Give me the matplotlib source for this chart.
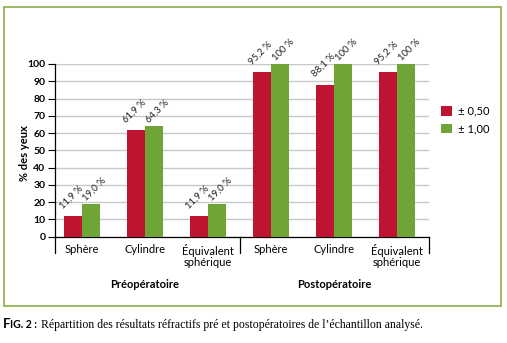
import numpy as np
import matplotlib.pyplot as plt
from matplotlib.patches import Rectangle

# data
categories = ['Sphère', 'Cylindre', 'Équivalent\nsphérique', 'Sphère', 'Cylindre', 'Équivalent\nsphérique']
groups = ['Préopératoire', 'Postopératoire']
vals_050 = [11.9, 61.9, 11.9, 95.2, 88.1, 95.2]
vals_100 = [19.0, 64.3, 19.0, 100, 100, 100]
labels_050 = ['11,9 %', '61,9 %', '11,9 %', '95,2 %', '88,1 %', '95,2 %']
labels_100 = ['19,0 %', '64,3 %', '19,0 %', '100 %', '100 %', '100 %']
series = ['± 0,50', '± 1,00']

red = '#be1431'
green = '#6fa536'
font = 'Lato'

fig = plt.figure(figsize=(5.07, 3.43), dpi=100)
ax = fig.add_axes([0.1085, 0.310, 0.738, 0.5035])

x = np.arange(len(categories))
w = 0.28
ax.bar(x - w / 2, vals_050, w, color=red, label=series[0], zorder=3)
ax.bar(x + w / 2, vals_100, w, color=green, label=series[1], zorder=3)

# value labels, rotated 45 deg above each bar
for xi, v, s in zip(x - w / 2, vals_050, labels_050):
    ax.annotate(s, (xi, v), xytext=(-1.5, 4), textcoords='offset points', rotation=45,
                ha='center', va='bottom', fontsize=6.8, family=font, color='#222222')
for xi, v, s in zip(x + w / 2, vals_100, labels_100):
    ax.annotate(s, (xi, v), xytext=(2.5, 1), textcoords='offset points', rotation=45,
                ha='center', va='bottom', fontsize=6.8, family=font, color='#222222')

ax.set_xlim(-0.43, 5.51)
ax.set_ylim(0, 100)
ax.set_yticks(range(0, 101, 10))
ax.set_yticklabels([str(t) for t in range(0, 101, 10)], fontsize=7.5, fontweight='bold', family=font)
ax.yaxis.grid(True, color='#c8c8c8', linewidth=1, zorder=0)
ax.tick_params(axis='y', length=5, width=0.8, pad=2)
ax.set_xticks([])
for side in ['top', 'right']:
    ax.spines[side].set_visible(False)
ax.spines['left'].set_linewidth(0.9)
ax.spines['bottom'].set_linewidth(0.9)
ax.set_ylabel('% des yeux', fontsize=8, fontweight='bold', family=font)
ax.yaxis.set_label_coords(-0.066, 0.485)

# category labels and separators
trans = ax.get_xaxis_transform()
for xi, c in zip(x, categories):
    ax.text(xi, -0.04, c, transform=trans, ha='center', va='top', fontsize=8,
            family=font, linespacing=1.1)
for xs in [-0.43, 2.5, 5.51]:
    ax.plot([xs, xs], [0, -0.095], transform=trans, color='black', linewidth=0.9, clip_on=False)
ax.text(1, -0.245, groups[0], transform=trans, ha='center', va='top', fontsize=8,
        fontweight='bold', family=font)
ax.text(4, -0.245, groups[1], transform=trans, ha='center', va='top', fontsize=8,
        fontweight='bold', family=font)

# legend
leg = fig.legend(loc='center left', bbox_to_anchor=(0.85, 0.65), frameon=False,
                 prop={'family': font, 'size': 8}, handlelength=0.95, handleheight=0.95,
                 handletextpad=0.6, labelspacing=0.6)

# frame
fig.patches.append(Rectangle((0.0079, 0.108), 0.980, 0.872, transform=fig.transFigure,
                             fill=False, edgecolor='#93b356', linewidth=1.3))

# caption
fig.text(0.005, 0.044, 'F', fontsize=9.5, fontweight='bold', family=font, va='baseline')
fig.text(0.019, 0.044, 'IG. 2 :', fontsize=7.6, fontweight='bold', family=font, va='baseline')
fig.text(0.080, 0.044, "Répartition des résultats réfractifs pré et postopératoires de l’échantillon analysé.",
         fontsize=8.5, family='Liberation Serif', va='baseline')

plt.savefig('out.png', dpi=100)
plt.close()
